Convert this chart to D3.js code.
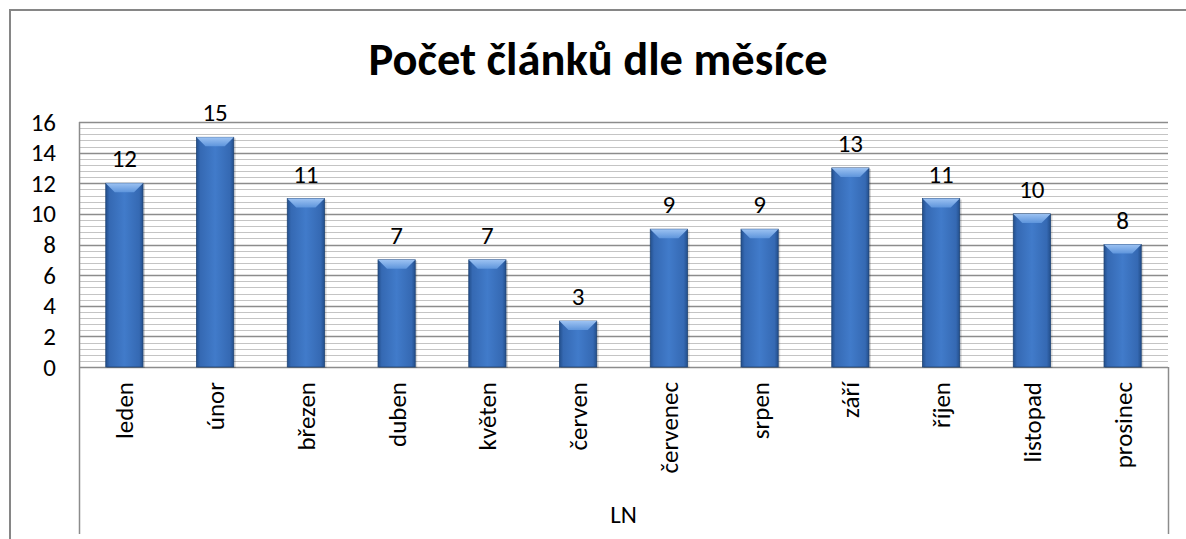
<!DOCTYPE html>
<html>
<head>
<meta charset="utf-8">
<script src="https://cdn.jsdelivr.net/npm/d3@7"></script>
<style>
  body { margin: 0; background: #fff; }
  text { font-family: Carlito, Calibri, "Open Sans", sans-serif; fill: #000; }
</style>
</head>
<body>
<div id="chart"></div>
<script>
let months = ['leden', 'únor', 'březen', 'duben', 'květen', 'červen',
  'červenec', 'srpen', 'září', 'říjen', 'listopad', 'prosinec'];
let counts = [12, 15, 11, 7, 7, 3, 9, 9, 13, 11, 10, 8];
let yTicks = [0, 2, 4, 6, 8, 10, 12, 14, 16];
let groupLabel = 'LN';
let title = 'Počet článků dle měsíce';

let width = 1186;
let height = 539;
let plot = { left: 79, right: 1168, top: 122, bottom: 367 };
let fontFamily = 'Carlito, Calibri, "Open Sans", sans-serif';

let svg = d3.select('#chart')
  .append('svg')
  .attr('width', width)
  .attr('height', height);

// bar gradient + bevel
let defs = svg.append('defs');
let grad = defs.append('linearGradient').attr('id', 'barGrad')
  .attr('x1', 0).attr('x2', 1).attr('y1', 0).attr('y2', 0);
grad.append('stop').attr('offset', '0%').attr('stop-color', '#234f8c');
grad.append('stop').attr('offset', '10%').attr('stop-color', '#3569b3');
grad.append('stop').attr('offset', '50%').attr('stop-color', '#417bca');
grad.append('stop').attr('offset', '90%').attr('stop-color', '#3569b3');
grad.append('stop').attr('offset', '100%').attr('stop-color', '#234f8c');
let bevel = defs.append('linearGradient').attr('id', 'bevelGrad')
  .attr('x1', 0).attr('x2', 0).attr('y1', 0).attr('y2', 1);
bevel.append('stop').attr('offset', '0%').attr('stop-color', '#9cc2f2');
bevel.append('stop').attr('offset', '100%').attr('stop-color', '#5e95dc');

// chart frame
svg.append('rect')
  .attr('x', 10).attr('y', 10)
  .attr('width', width + 20).attr('height', height + 20)
  .attr('fill', '#fff')
  .attr('stroke', '#868686')
  .attr('stroke-width', 2);

let x = d3.scaleBand()
  .domain(months)
  .range([plot.left, plot.right])
  .paddingInner(0.59)
  .paddingOuter(0.295);

let y = d3.scaleLinear()
  .domain([0, 16])
  .range([plot.bottom, plot.top]);

// minor gridlines
let minor = d3.range(0, 16.001, 0.4).filter(v => Math.abs(v / 2 - Math.round(v / 2)) > 0.01);
svg.append('g')
  .selectAll('line')
  .data(minor)
  .enter()
  .append('line')
  .attr('x1', plot.left).attr('x2', plot.right)
  .attr('y1', d => Math.round(y(d)) + 0.5).attr('y2', d => Math.round(y(d)) + 0.5)
  .attr('stroke', '#c4c4c4')
  .attr('stroke-width', 1);

// major gridlines
svg.append('g')
  .selectAll('line')
  .data(yTicks)
  .enter()
  .append('line')
  .attr('x1', plot.left).attr('x2', plot.right)
  .attr('y1', d => Math.round(y(d)) + 0.5).attr('y2', d => Math.round(y(d)) + 0.5)
  .attr('stroke', '#8c8c8c')
  .attr('stroke-width', 1.5);

// y axis labels
let yAxis = svg.append('g')
  .attr('transform', `translate(${plot.left},0)`)
  .call(d3.axisLeft(y).tickValues(yTicks).tickSize(0).tickPadding(23));
yAxis.select('.domain').remove();
yAxis.selectAll('text')
  .attr('font-size', 25)
  .attr('font-family', fontFamily)
  .attr('fill', '#000');

// plot left edge and category box lines
svg.append('line')
  .attr('x1', plot.left + 0.5).attr('x2', plot.left + 0.5)
  .attr('y1', plot.top).attr('y2', 534)
  .attr('stroke', '#8c8c8c').attr('stroke-width', 1.5);
svg.append('line')
  .attr('x1', plot.right + 0.5).attr('x2', plot.right + 0.5)
  .attr('y1', plot.bottom).attr('y2', 534)
  .attr('stroke', '#8c8c8c').attr('stroke-width', 1.5);

// bars
let bars = svg.append('g')
  .selectAll('g.bar')
  .data(months.map((m, i) => ({ month: m, value: counts[i] })))
  .enter()
  .append('g')
  .attr('class', 'bar');

// soft shadow
bars.append('rect')
  .attr('x', d => x(d.month) + 1)
  .attr('y', d => y(d.value) + 1)
  .attr('width', x.bandwidth() + 1)
  .attr('height', d => y(0) - y(d.value))
  .attr('fill', '#000')
  .attr('opacity', 0.15);

bars.append('rect')
  .attr('x', d => x(d.month))
  .attr('y', d => y(d.value))
  .attr('width', x.bandwidth())
  .attr('height', d => y(0) - y(d.value))
  .attr('fill', 'url(#barGrad)')
  .attr('stroke', '#1f4475')
  .attr('stroke-width', 0.8);

bars.append('path')
  .attr('d', d => {
    let x0 = x(d.month), x1 = x0 + x.bandwidth(), t = y(d.value), b = 9;
    return `M${x0},${t}L${x1},${t}L${x1 - b},${t + b}L${x0 + b},${t + b}Z`;
  })
  .attr('fill', 'url(#bevelGrad)');

// value labels
bars.append('text')
  .attr('x', d => x(d.month) + x.bandwidth() / 2)
  .attr('y', d => y(d.value) - 16)
  .attr('text-anchor', 'middle')
  .attr('font-size', 25)
  .text(d => d.value);

// category labels
svg.append('g')
  .selectAll('text')
  .data(months)
  .enter()
  .append('text')
  .attr('transform', d => `translate(${x(d) + x.bandwidth() / 2 + 9},382) rotate(-90)`)
  .attr('text-anchor', 'end')
  .attr('font-size', 25)
  .text(d => d);

// group label
svg.append('text')
  .attr('x', (plot.left + plot.right) / 2)
  .attr('y', 523)
  .attr('text-anchor', 'middle')
  .attr('font-size', 25)
  .text(groupLabel);

// title
svg.append('text')
  .attr('x', 598)
  .attr('y', 75)
  .attr('text-anchor', 'middle')
  .attr('font-size', 46.5)
  .attr('font-weight', 'bold')
  .text(title);
</script>
</body>
</html>
